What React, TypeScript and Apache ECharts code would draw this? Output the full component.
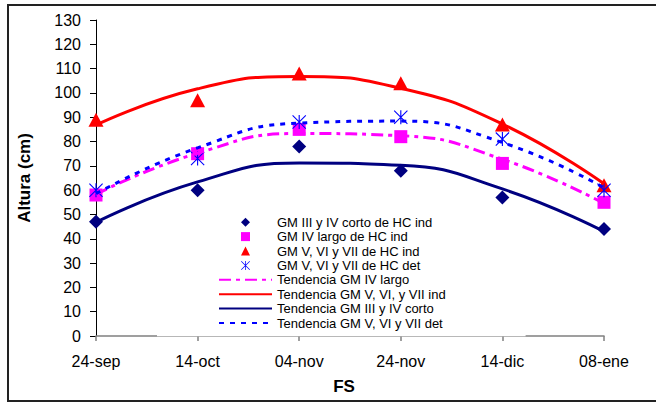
import React, { useEffect, useRef } from 'react';
import * as echarts from 'echarts';

const categories = ['24-sep', '14-oct', '04-nov', '24-nov', '14-dic', '08-ene'];
const cortoInd = [47, 60, 78, 68, 57, 44];
const largoInd = [58, 75, 85, 82, 71, 55];
const vviiInd = [89, 97, 108, 104, 87, 62];
const vviiDet = [60, 73, 88, 90, 81, 60];
const trendLargo = [58.3, 75.2, 83.3, 82.4, 72.7, 54.5];
const trendVviiInd = [86.8, 101.7, 106.8, 101.9, 87.2, 62.6];
const trendCorto = [46.8, 63.4, 71.2, 70.2, 60.5, 43.0];
const trendVviiDet = [58.5, 77.4, 87.6, 88.4, 79.6, 61.0];

const FONT = '"Liberation Sans", Arial, sans-serif';
const ASTERISK =
  'path://M9.2,0 L10.8,0 L10.8,20 L9.2,20 Z M0,1.1 L1.1,0 L20,18.9 L18.9,20 Z M18.9,0 L20,1.1 L1.1,20 L0,18.9 Z';
const DIAMOND = 'path://M5,0 L10,5 L5,10 L0,5 Z';
const SQUARE = 'path://M0,0 L10,0 L10,10 L0,10 Z';
const TRIANGLE = 'path://M5,0 L10,10 L0,10 Z';

export default function App() {
  const ref = useRef<HTMLDivElement>(null);
  useEffect(() => {
    if (!ref.current) return;
    const chart = echarts.init(ref.current, undefined, { renderer: 'svg' });
    const scatterNames = [
      'GM III y IV corto de HC ind',
      'GM IV largo de HC ind',
      'GM V, VI y VII de HC ind',
      'GM V, VI y VII de HC det',
    ];
    const trendNames = [
      'Tendencia GM IV largo',
      'Tendencia GM V, VI, y VII ind',
      'Tendencia GM III y IV corto',
      'Tendencia GM V, VI y VII det',
    ];
    chart.setOption({
      animation: false,
      backgroundColor: '#ffffff',
      textStyle: { fontFamily: FONT },
      grid: { left: 96, right: 52, top: 20, bottom: 69 },
      graphic: [
        {
          type: 'rect',
          shape: { x: 8, y: 5, width: 700, height: 396 },
          style: { fill: 'none', stroke: '#222222', lineWidth: 2 },
          silent: true,
        },
      ],
      legend: {
        orient: 'vertical',
        left: 157,
        top: 211,
        data: [
          ...scatterNames.map((n) => ({ name: n })),
          ...trendNames.map((n) => ({ name: n, itemStyle: { opacity: 0 } })),
        ],
        backgroundColor: '#ffffff',
        padding: [4, 80, 6, 61],
        itemWidth: 53,
        itemHeight: 9,
        itemGap: 0,
        textStyle: { fontFamily: FONT, fontSize: 13, color: '#000', lineHeight: 14.4 },
      },
      xAxis: {
        type: 'category',
        data: categories,
        boundaryGap: false,
        name: 'FS',
        nameLocation: 'middle',
        nameGap: 42,
        nameTextStyle: { fontFamily: FONT, fontSize: 17, fontWeight: 'bold', color: '#000', padding: [0, 12, 0, 0] },
        axisLine: { lineStyle: { color: '#808080', width: 1.5 } },
        axisTick: { show: true, length: 5, lineStyle: { color: '#808080', width: 1.5 } },
        axisLabel: { fontFamily: FONT, fontSize: 16, color: '#000', margin: 17 },
        splitLine: { show: false },
      },
      yAxis: {
        type: 'value',
        min: 0,
        max: 130,
        interval: 10,
        name: 'Altura (cm)',
        nameLocation: 'middle',
        nameGap: 63,
        nameTextStyle: { fontFamily: FONT, fontSize: 17, fontWeight: 'bold', color: '#000' },
        axisLine: { show: true, lineStyle: { color: '#000', width: 1 } },
        axisTick: { show: true, length: 6, lineStyle: { color: '#000' } },
        axisLabel: { fontFamily: FONT, fontSize: 16, color: '#000', margin: 15 },
        splitLine: { show: false },
      },
      series: [
        {
          name: trendNames[0],
          type: 'line',
          data: trendLargo,
          smooth: true,
          symbol: 'none',
          lineStyle: { color: '#ff00ff', width: 3, type: [12, 5, 4, 5] },
          itemStyle: { color: '#ff00ff' },
        },
        {
          name: trendNames[1],
          type: 'line',
          data: trendVviiInd,
          smooth: true,
          symbol: 'none',
          lineStyle: { color: '#ff0000', width: 3 },
          itemStyle: { color: '#ff0000' },
        },
        {
          name: trendNames[2],
          type: 'line',
          data: trendCorto,
          smooth: true,
          symbol: 'none',
          lineStyle: { color: '#000080', width: 3 },
          itemStyle: { color: '#000080' },
        },
        {
          name: trendNames[3],
          type: 'line',
          data: trendVviiDet,
          smooth: true,
          symbol: 'none',
          lineStyle: { color: '#0000ff', width: 3, type: [5, 6] },
          itemStyle: { color: '#0000ff' },
        },
        {
          name: scatterNames[0],
          type: 'scatter',
          data: cortoInd,
          symbol: DIAMOND,
          symbolSize: 14,
          itemStyle: { color: '#000080', opacity: 1 },
        },
        {
          name: scatterNames[1],
          type: 'scatter',
          data: largoInd,
          symbol: SQUARE,
          symbolSize: 13,
          itemStyle: { color: '#ff00ff', opacity: 1 },
        },
        {
          name: scatterNames[2],
          type: 'scatter',
          data: vviiInd,
          symbol: TRIANGLE,
          symbolSize: [15, 14],
          itemStyle: { color: '#ff0000', opacity: 1 },
        },
        {
          name: scatterNames[3],
          type: 'scatter',
          data: vviiDet,
          symbol: ASTERISK,
          symbolSize: 14,
          itemStyle: { color: '#0000ff', opacity: 1 },
        },
      ],
    });
    return () => chart.dispose();
  }, []);
  return (
    <div
      ref={ref}
      style={{ position: 'fixed', left: 0, top: 0, width: 656, height: 405, background: '#fff' }}
    />
  );
}
